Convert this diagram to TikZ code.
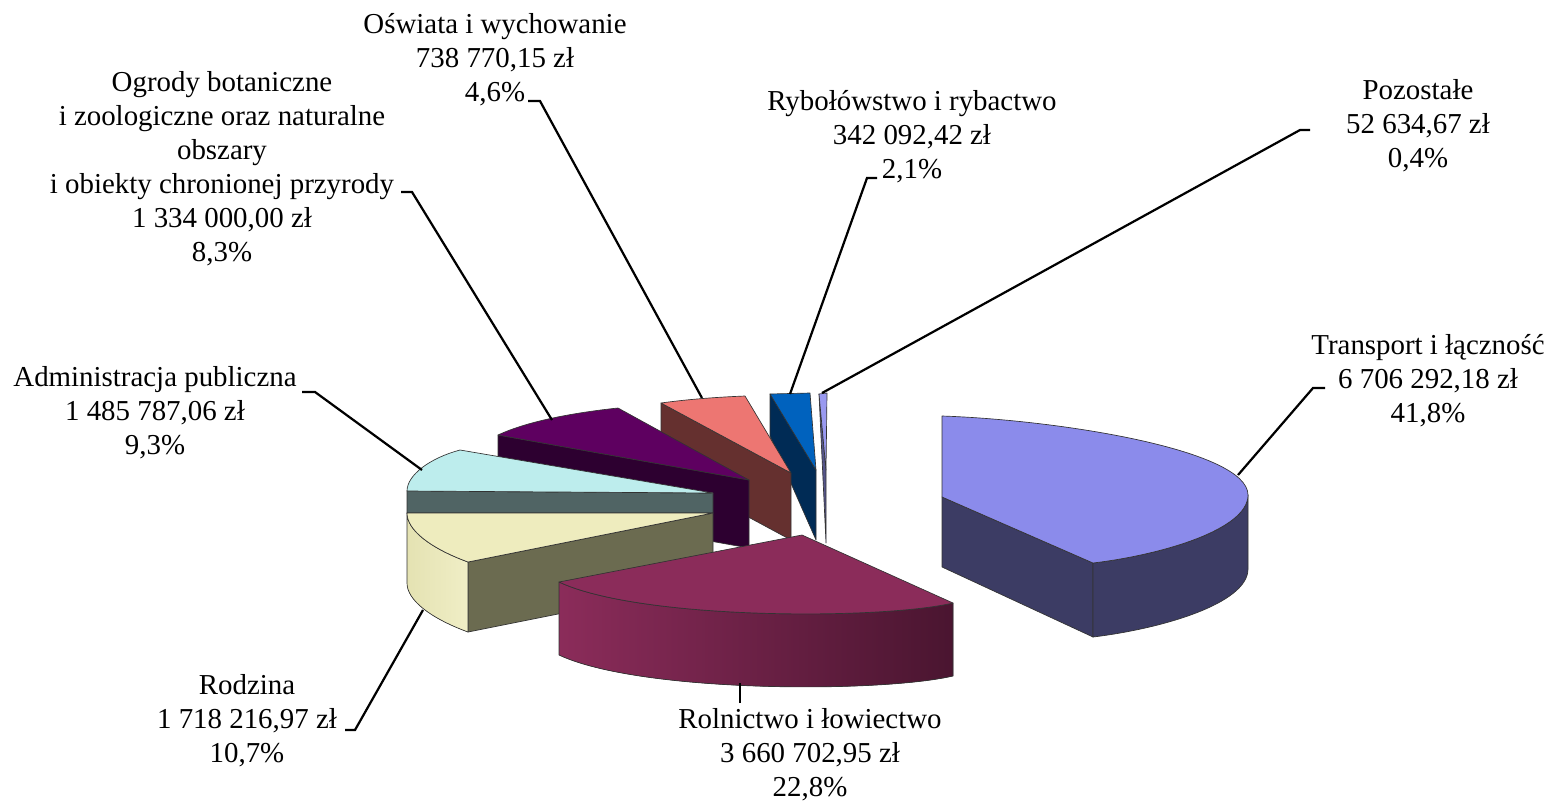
\documentclass[tikz,border=0pt]{standalone}
\usepackage{fontspec}
\setmainfont{Liberation Serif}
\usepackage{xcolor}
\usepackage{tikz}
\definecolor{tratop}{HTML}{8B8BEB}
\definecolor{traside}{HTML}{3C3C64}
\definecolor{roltop}{HTML}{8B2C5A}
\definecolor{rolside}{HTML}{4A1530}
\definecolor{rodtop}{HTML}{EEECBE}
\definecolor{rodside}{HTML}{6B6B50}
\definecolor{rodarcl}{HTML}{E4E2B2}
\definecolor{rodarcr}{HTML}{F0EEC6}
\definecolor{admtop}{HTML}{BDEDED}
\definecolor{admside}{HTML}{506464}
\definecolor{ogrtop}{HTML}{5E0060}
\definecolor{ogrside}{HTML}{2D0030}
\definecolor{oswtop}{HTML}{ED7672}
\definecolor{oswside}{HTML}{65302F}
\definecolor{rybtop}{HTML}{0062BE}
\definecolor{rybside}{HTML}{002B55}
\definecolor{poztop}{HTML}{9999F0}
\definecolor{pozside}{HTML}{55558A}

\begin{document}
\begin{tikzpicture}
[x=0.45pt,y=-0.45pt,
lbl/.style={align=center,font=\fontsize{13}{15.3}\selectfont,inner sep=0pt},
lead/.style={draw=black,line width=1pt},
face/.style={draw=black!80,line width=0.3pt,line join=round}]
\useasboundingbox (0,0) rectangle (1548,802);

\fill[face,fill=pozside] (819,394) -- (826,470) -- (826,543) -- cycle;
\fill[face,fill=poztop] (819,394) -- (827,393) -- (826,470) -- cycle;

\filldraw[face,fill=rybside] (770,394) -- (816,470) -- (816,540) -- (770,436) -- cycle;
\filldraw[face,fill=rybtop] (770,394) -- (810,393) -- (816,470) -- cycle;

\filldraw[face,fill=oswside] (661,403) -- (791,473) -- (791,540) -- (661,470) -- cycle;
\filldraw[face,fill=oswtop] (661,403) .. controls (690,399) and (720,397) .. (745,396) -- (791,473) -- cycle;

\filldraw[face,fill=ogrside] (498,435) -- (749,480) -- (749,548) -- (498,503) -- cycle;
\filldraw[face,fill=ogrtop] (498,435) .. controls (530,420) and (580,412) .. (618,408) -- (749,480) -- cycle;

\filldraw[face,fill=admside] (407,491) -- (713,493) -- (713,513) -- (407,513) -- cycle;
\filldraw[face,fill=admtop] (713,493) -- (460,450) .. controls (430,458) and (407,475) .. (407,491) -- cycle;

\filldraw[face,fill=rodside] (713,513) -- (468,562) -- (468,632) -- (713,583) -- cycle;
\filldraw[face,left color=rodarcl,right color=rodarcr] (407,513) .. controls (407,530) and (430,548) .. (468,562) -- (468,632) .. controls (430,618) and (407,600) .. (407,583) -- cycle;
\filldraw[face,fill=rodtop] (713,513) -- (468,562) .. controls (430,548) and (407,530) .. (407,513) -- cycle;

\filldraw[face,left color=roltop,right color=rolside] (953,603) .. controls (880,620) and (640,620) .. (559,582) -- (559,655) .. controls (640,693) and (880,693) .. (953,676) -- cycle;
\filldraw[face,fill=roltop] (802,535) -- (953,603) .. controls (880,620) and (640,620) .. (559,582) -- cycle;

\filldraw[face,fill=traside] (942,497) -- (1093,563) -- (1093,637) -- (942,567) -- cycle;
\filldraw[face,fill=traside] (1248,495) .. controls (1248,530) and (1160,555) .. (1093,563) -- (1093,637) .. controls (1160,629) and (1248,604) .. (1248,569) -- cycle;
\filldraw[face,fill=tratop] (942,416) .. controls (1060,420) and (1248,450) .. (1248,495) .. controls (1248,530) and (1160,555) .. (1093,563) -- (942,497) -- cycle;

\node at (495,60)   [lbl] (osw) {Oświata i wychowanie\\738 770,15 zł\\4,6\%};
\node at (222,169)  [lbl] (ogr) {Ogrody botaniczne\\i zoologiczne oraz naturalne\\obszary\\i obiekty chronionej przyrody\\1 334 000,00 zł\\8,3\%};
\node at (912,137)  [lbl] (ryb) {Rybołówstwo i rybactwo\\342 092,42 zł\\2,1\%};
\node at (1418,126) [lbl] (poz) {Pozostałe\\52 634,67 zł\\0,4\%};
\node at (1428,381) [lbl] (tra) {Transport i łączność\\6 706 292,18 zł\\41,8\%};
\node at (155,413)  [lbl] (adm) {Administracja publiczna\\1 485 787,06 zł\\9,3\%};
\node at (247,721)  [lbl] (rod) {Rodzina\\1 718 216,97 zł\\10,7\%};
\node at (810,755)  [lbl] (rol) {Rolnictwo i łowiectwo\\3 660 702,95 zł\\22,8\%};

\coordinate (osw-s) at (528,101);  \coordinate (osw-p) at (702,398);
\coordinate (ogr-s) at (401,192);  \coordinate (ogr-p) at (552,420);
\coordinate (ryb-s) at (877,178);  \coordinate (ryb-p) at (790,394);
\coordinate (poz-s) at (1310,130); \coordinate (poz-p) at (822,393);
\coordinate (tra-s) at (1325,388); \coordinate (tra-p) at (1238,475);
\coordinate (adm-s) at (302,392);  \coordinate (adm-p) at (422,470);
\coordinate (rod-s) at (345,730);  \coordinate (rod-p) at (423,610);
\coordinate (rol-s) at (740,703);  \coordinate (rol-p) at (740,683);

\draw [lead] (osw-s) -- ++(12,0) -- (osw-p);
\draw [lead] (ogr-s) -- ++(11,0) -- (ogr-p);
\draw [lead] (ryb-s) -- ++(-10,0) -- (ryb-p);
\draw [lead] (poz-s) -- ++(-10,0) -- (poz-p);
\draw [lead] (tra-s) -- ++(-12,0) -- (tra-p);
\draw [lead] (adm-s) -- ++(13,0) -- (adm-p);
\draw [lead] (rod-s) -- ++(10,0) -- (rod-p);
\draw [lead] (rol-s) -- (rol-p);
\end{tikzpicture}
\end{document}
